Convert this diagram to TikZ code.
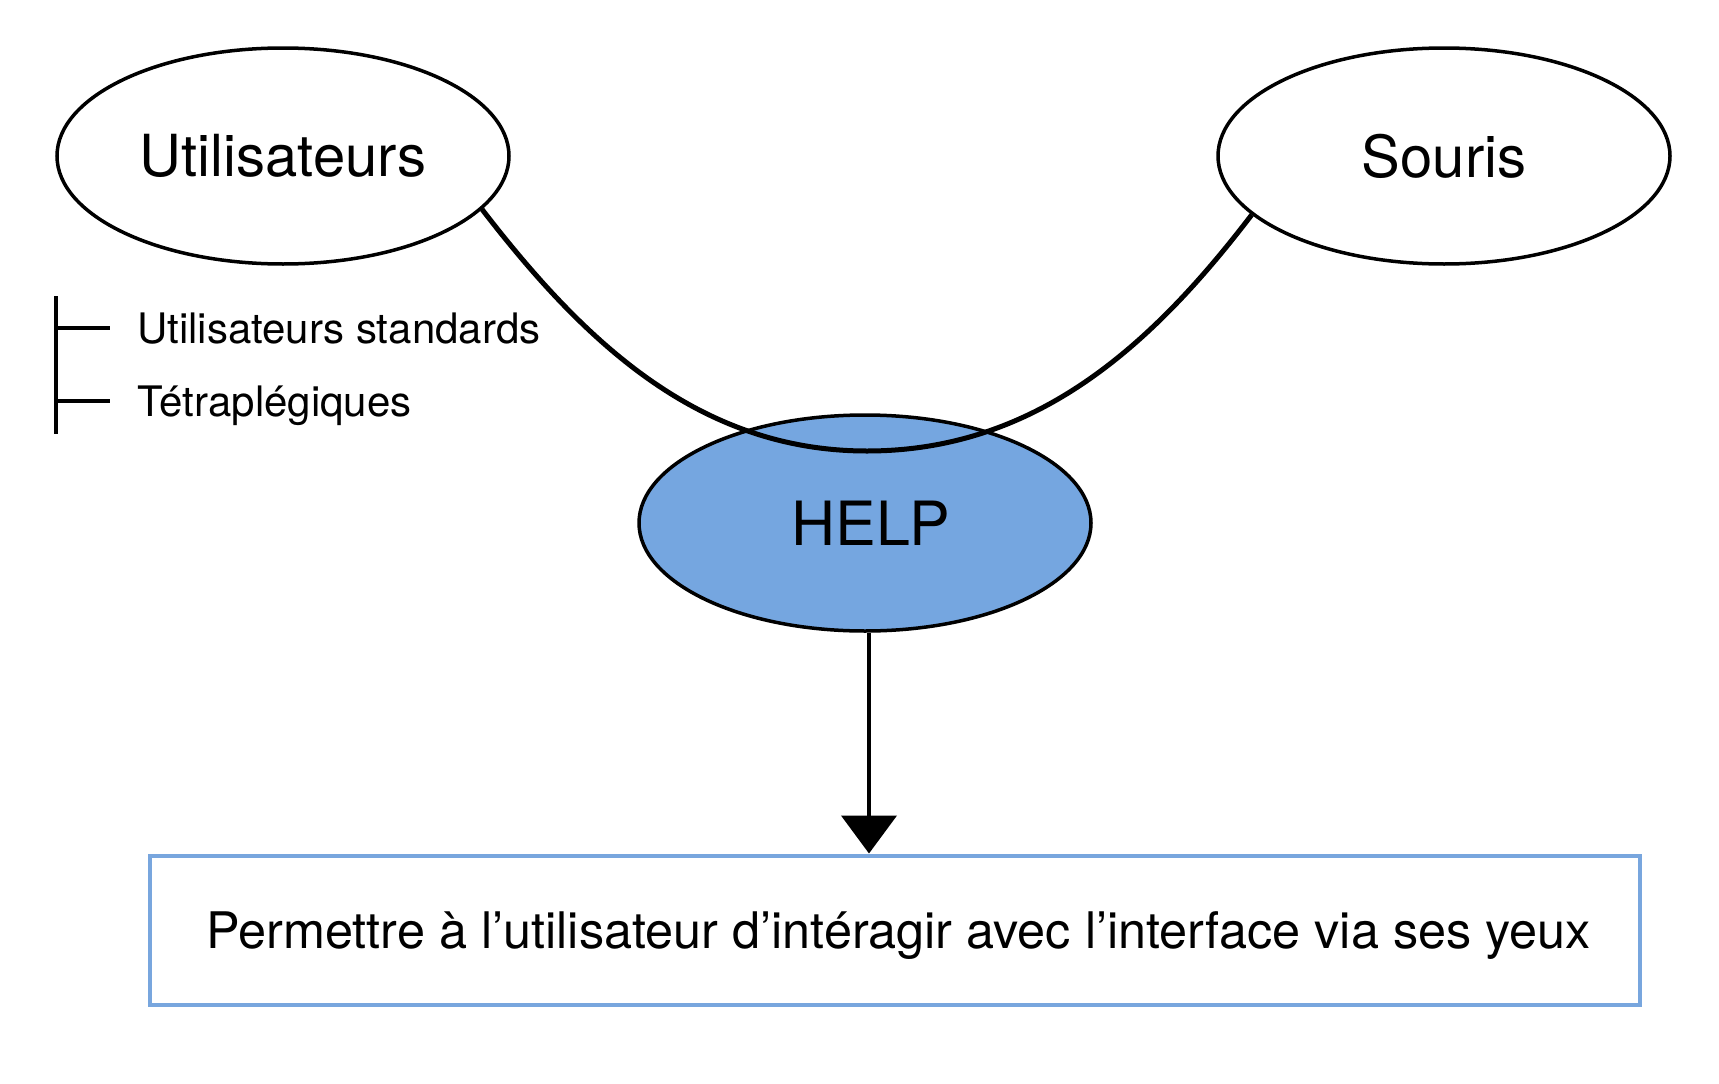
\documentclass[tikz,border=0pt]{standalone}
\usepackage{fontspec}
\setmainfont{TeX Gyre Heros}
\usetikzlibrary{shapes.geometric,arrows.meta}
\definecolor{helpblue}{RGB}{117,166,224}
\definecolor{boxblue}{RGB}{120,166,222}
\tikzset{
  bubble/.style={ellipse,draw,line width=3.5pt,minimum width=452pt,minimum height=216pt,
    font=\fontsize{58}{60}\selectfont},
  leaf/.style={anchor=base west,inner sep=0pt,font=\fontsize{42}{44}\selectfont},
  goal/.style={draw=boxblue,line width=4pt,minimum width=1490pt,minimum height=149pt,
    text height=36pt,text depth=0pt,font=\fontsize{50.4}{52}\selectfont},
  stem/.style={line width=3.5pt}
}
\begin{document}
\begin{tikzpicture}[x=1pt,y=-1pt]
    \useasboundingbox (0,0) rectangle (1719,1084);
    \node[bubble] (users) at (283,156) {Utilisateurs};
    \node[bubble] (mouse) at (1444,156) {Souris};
    \node[bubble,fill=helpblue,font=\fontsize{61}{63}\selectfont] (help) at (865,523) {\hspace*{12pt}HELP};
    \node[goal] (aim) at (894.5,930) {\hspace*{8pt}Permettre à l’utilisateur d’intéragir avec l’interface via ses yeux};

    \node[leaf] (std) at (137,343) {Utilisateurs standards};
    \node[leaf] (tetra) at (137,416) {Tétraplégiques};
    \coordinate (top) at (56,296);
    \coordinate (bot) at (56,434);
    \coordinate (k1) at (56,328);
    \coordinate (k2) at (56,401);
    \draw[stem] (top) -- (bot);
    \draw[stem] (k1) -- ++(54,0);
    \draw[stem] (k2) -- ++(54,0);

    \coordinate (dip) at (867,451);
    \draw[line width=5pt] (users.-15) .. controls (582,339) and (697,451) .. (dip)
        .. controls (1037,451) and (1153,344) .. (mouse.-163);
    \draw[line width=4.5pt,-{Triangle[length=38pt,width=55pt]}] ([xshift=4pt]help.south) -- ([xshift=4pt]help.south |- aim.north);
\end{tikzpicture}
\end{document}
